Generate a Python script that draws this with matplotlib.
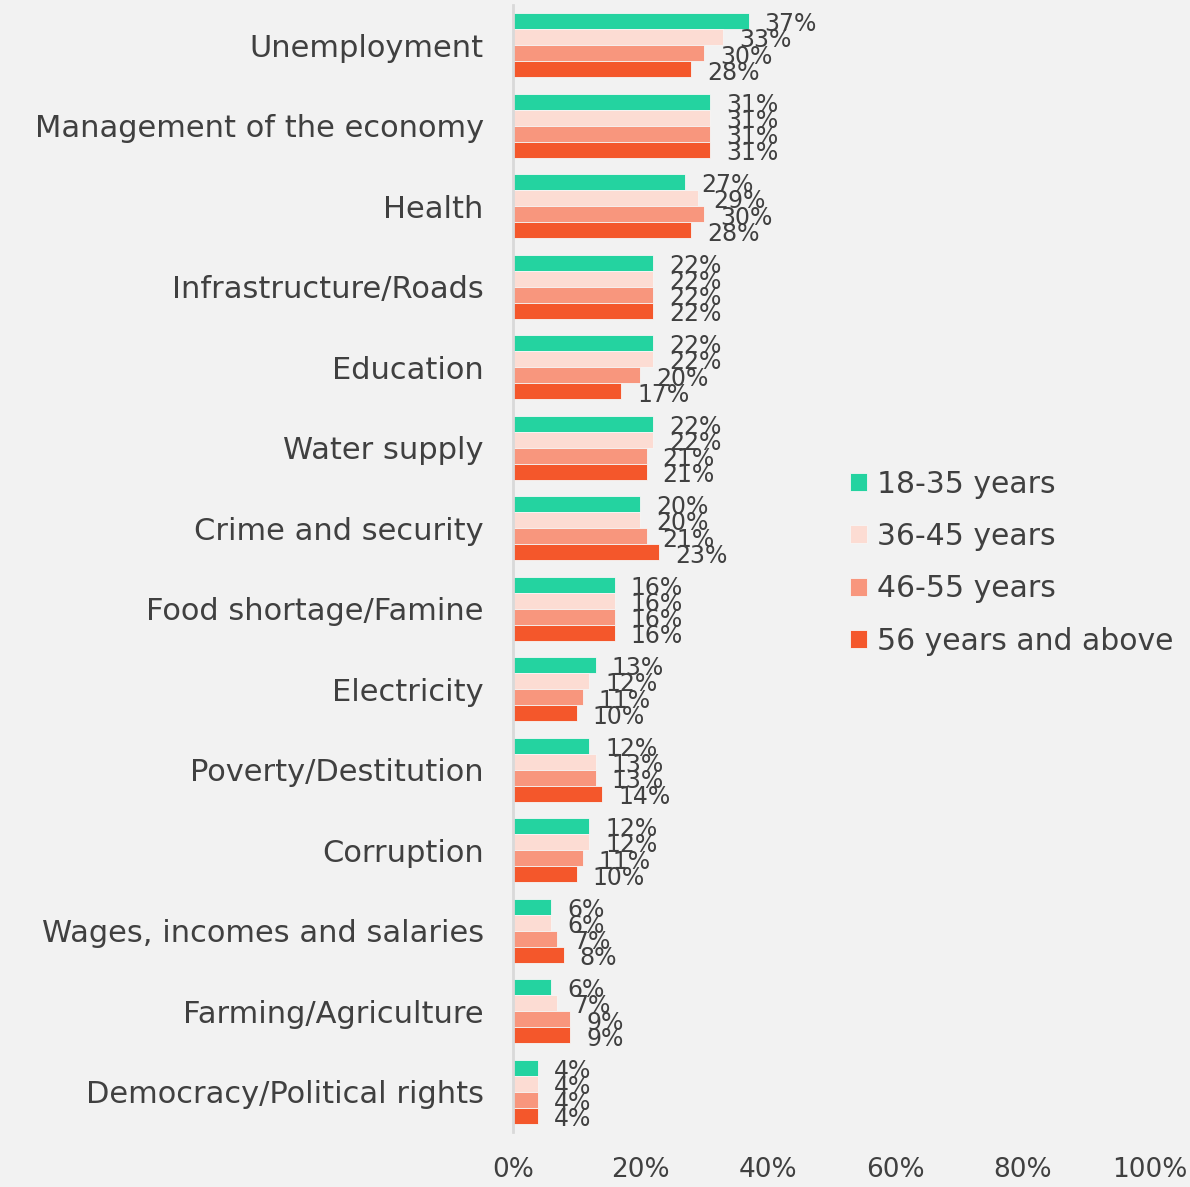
import numpy as np
import matplotlib.pyplot as plt

# Most important problems, by age group (% of respondents)
issues = ["Unemployment", "Management of the economy", "Health",
          "Infrastructure/Roads", "Education", "Water supply",
          "Crime and security", "Food shortage/Famine", "Electricity",
          "Poverty/Destitution", "Corruption",
          "Wages, incomes and salaries", "Farming/Agriculture",
          "Democracy/Political rights"]

age_18_35 = [37, 31, 27, 22, 22, 22, 20, 16, 13, 12, 12, 6, 6, 4]
age_36_45 = [33, 31, 29, 22, 22, 22, 20, 16, 12, 13, 12, 6, 7, 4]
age_46_55 = [30, 31, 30, 22, 20, 21, 21, 16, 11, 13, 11, 7, 9, 4]
age_56_up = [28, 31, 28, 22, 17, 21, 23, 16, 10, 14, 10, 8, 9, 4]

groups = ["18-35 years", "36-45 years", "46-55 years", "56 years and above"]
series = [age_18_35, age_36_45, age_46_55, age_56_up]
colors = ["#24D3A0", "#FCDCD3", "#F8967D", "#F4572B"]

xticks = [0, 20, 40, 60, 80, 100]

txt = "#404040"
bg = "#F2F2F2"
plt.rcParams["font.family"] = ["DejaVu Sans"]

fig = plt.figure(figsize=(11.9, 11.87), dpi=100, facecolor=bg)
ax = fig.add_axes([0.431, 0.0463, 0.5355, 0.9495])
ax.set_facecolor(bg)

y = np.arange(len(issues))
h = 0.2
for k, (vals, col, name) in enumerate(zip(series, colors, groups)):
    pos = y - 0.3 + k * h
    ax.barh(pos, vals, height=h, color=col, edgecolor="#F6F6F6",
            linewidth=0.6, label=name)
    for p, v in zip(pos, vals):
        ax.text(v + 2.5, p + 0.04, f"{v}%", va="center", ha="left",
                fontsize=17, color=txt)

ax.set_ylim(len(issues) - 0.5, -0.5)
ax.set_xlim(0, 100)
ax.set_yticks(y)
ax.set_yticklabels(issues, fontsize=22, color=txt)
ax.set_xticks(xticks)
ax.set_xticklabels([f"{t}%" for t in xticks], fontsize=19, color=txt)
ax.tick_params(length=0, pad=21, axis="y")
ax.tick_params(length=0, pad=18, axis="x")
for s in ["top", "right", "bottom"]:
    ax.spines[s].set_visible(False)
ax.spines["left"].set_color("#D9D9D9")
ax.spines["left"].set_linewidth(2)

leg = fig.legend(loc="center left", bbox_to_anchor=(0.692, 0.526),
                 frameon=False, fontsize=21.5, handlelength=0.55,
                 handleheight=0.55, handletextpad=0.35, labelspacing=0.78)
for t in leg.get_texts():
    t.set_color(txt)

fig.savefig("out.png", dpi=100, facecolor=bg)
